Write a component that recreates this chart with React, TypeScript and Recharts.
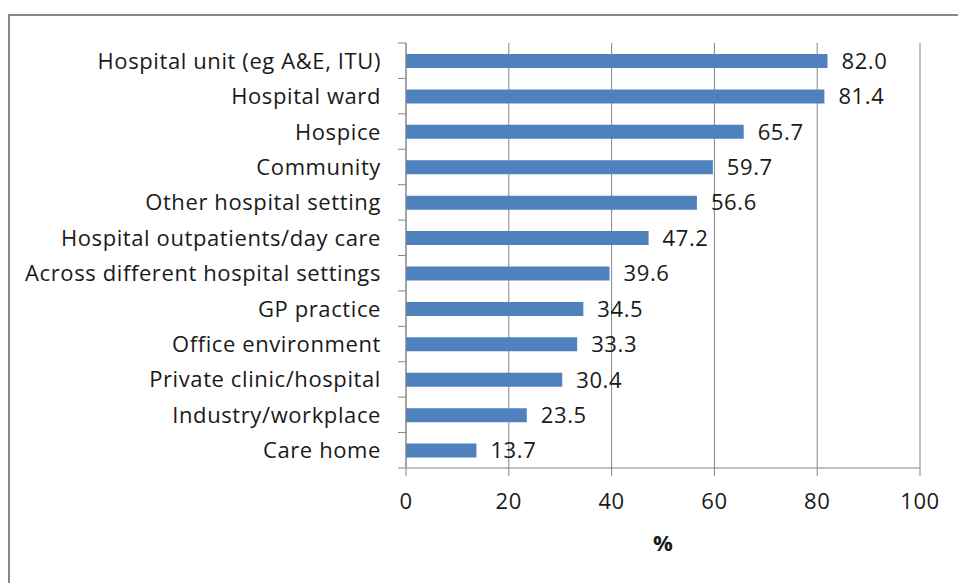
import { BarChart, Bar, XAxis, YAxis, CartesianGrid, LabelList } from "recharts";

const settings = [
  "Hospital unit (eg A&E, ITU)",
  "Hospital ward",
  "Hospice",
  "Community",
  "Other hospital setting",
  "Hospital outpatients/day care",
  "Across different hospital settings",
  "GP practice",
  "Office environment",
  "Private clinic/hospital",
  "Industry/workplace",
  "Care home",
];
const percents = [82.0, 81.4, 65.7, 59.7, 56.6, 47.2, 39.6, 34.5, 33.3, 30.4, 23.5, 13.7];
const xTicks = [0, 20, 40, 60, 80, 100];

const data = settings.map((name, i) => ({ name, value: percents[i] }));

const FONT = "'Open Sans', Lato, sans-serif";
const FS = 22;
const LS = 0.6;
const AXIS = "#868686";
const PLOT_H = 425;
const BAND = PLOT_H / settings.length;

function CategoryTick(props: any) {
  const { x, y, payload, index } = props;
  const axisX = x + 8;
  const last = index === settings.length - 1;
  return (
    <g>
      <line x1={axisX - 8} x2={axisX} y1={y - BAND / 2} y2={y - BAND / 2} stroke={AXIS} />
      {last && <line x1={axisX - 8} x2={axisX} y1={y + BAND / 2} y2={y + BAND / 2} stroke={AXIS} />}
      <text
        x={axisX - 25}
        y={y - 1}
        textAnchor="end"
        dominantBaseline="central"
        fontSize={FS}
        fill="#1a1a1a"
        fontFamily={FONT}
        letterSpacing={LS}
      >
        {payload.value}
      </text>
    </g>
  );
}

export default function App() {
  return (
    <div
      style={{
        position: "fixed",
        left: 8,
        top: 14,
        width: 950,
        height: 569,
        borderLeft: "2px solid #878787",
        borderTop: "2px solid #878787",
        background: "#fff",
      }}
    >
      <BarChart
        width={950}
        height={567}
        data={data}
        layout="vertical"
        margin={{ top: 27, right: 40, bottom: 15, left: 0 }}
        barSize={14}
      >
        <CartesianGrid horizontal={false} stroke={AXIS} strokeWidth={1} />
        <XAxis
          type="number"
          domain={[0, 100]}
          ticks={xTicks}
          stroke={AXIS}
          tickSize={8}
          tickMargin={17}
          height={100}
          tick={{ fontSize: FS, fill: "#1a1a1a", fontFamily: FONT, letterSpacing: LS }}
          label={{ value: "%", position: "insideBottom", offset: 17, fontSize: FS, fontWeight: 700, fill: "#1a1a1a", fontFamily: FONT }}
        />
        <YAxis
          type="category"
          dataKey="name"
          width={396}
          stroke={AXIS}
          tickLine={false}
          tick={<CategoryTick />}
          interval={0}
        />
        <Bar dataKey="value" fill="#4F81BD" isAnimationActive={false}>
          <LabelList
            dataKey="value"
            position="right"
            offset={14}
            formatter={(v: any) => Number(v).toFixed(1)}
            style={{ fontSize: FS, fill: "#1a1a1a", fontFamily: FONT, letterSpacing: LS }}
          />
        </Bar>
      </BarChart>
    </div>
  );
}
